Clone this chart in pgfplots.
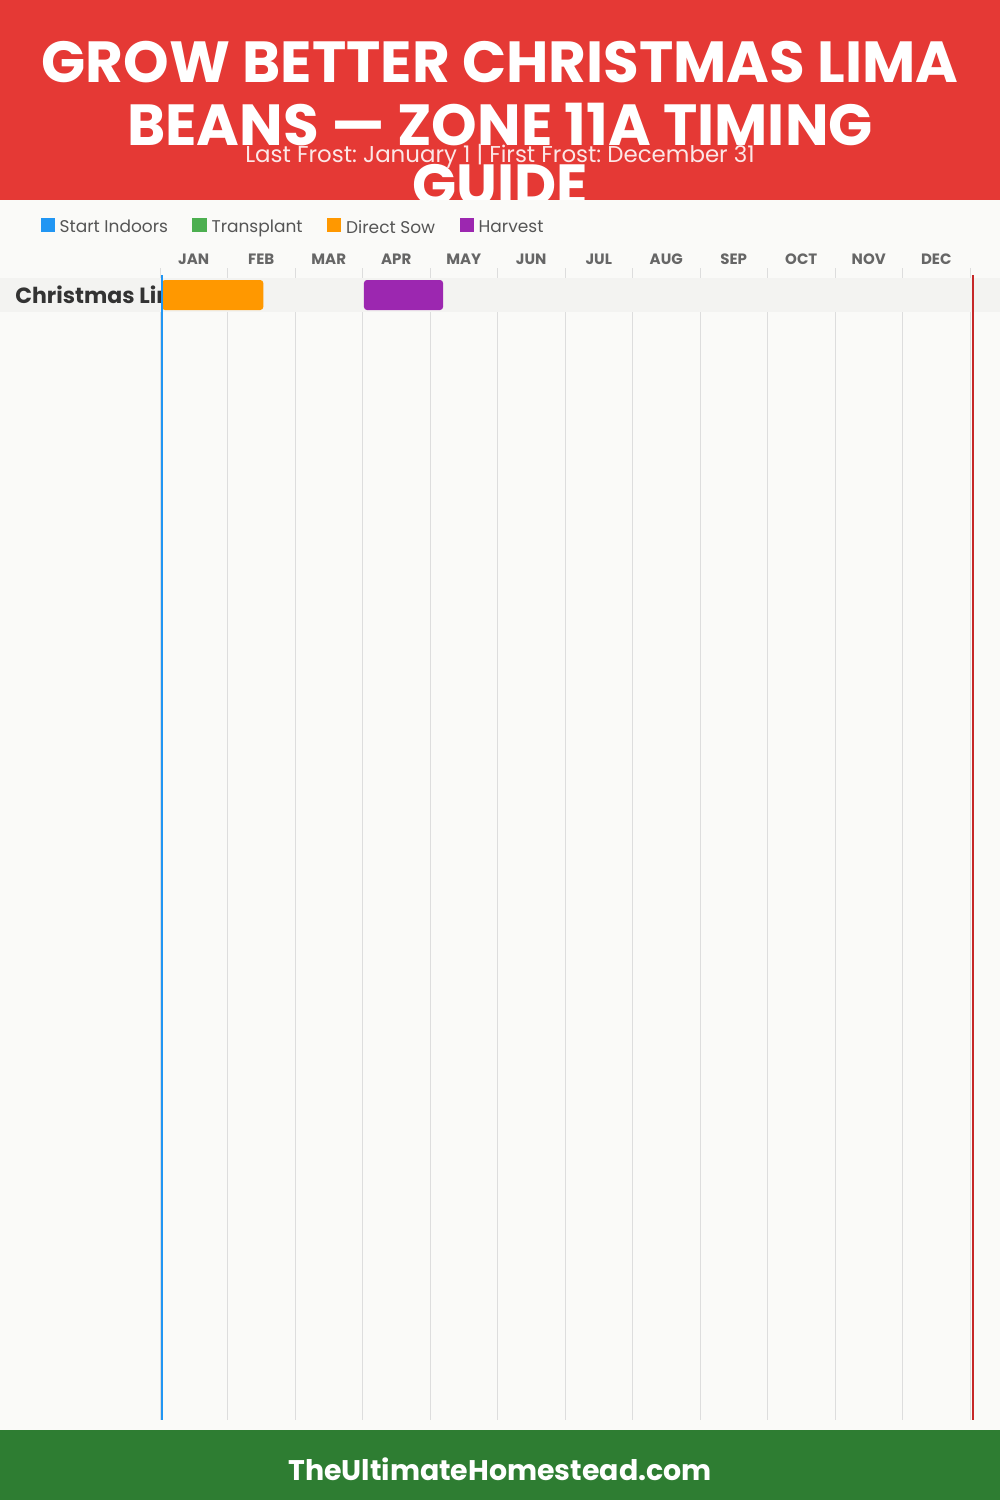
\documentclass[border=0pt]{standalone}
\usepackage{pgfplots}
\pgfplotsset{compat=1.18}
\usepackage{fontspec}
\setmainfont{Poppins}
\definecolor{bgc}{HTML}{FAFAF8}
\definecolor{bandc}{HTML}{F3F3F1}
\definecolor{redband}{HTML}{E53935}
\definecolor{greenband}{HTML}{2E7D32}
\definecolor{cIndoor}{HTML}{2196F3}
\definecolor{cTrans}{HTML}{4CAF50}
\definecolor{cSow}{HTML}{FF9800}
\definecolor{cHarv}{HTML}{9C27B0}
\definecolor{frostred}{HTML}{C62828}
\definecolor{gridc}{HTML}{DDDDDD}
\definecolor{c333}{HTML}{333333}
\definecolor{c555}{HTML}{555555}
\definecolor{c666}{HTML}{666666}
\begin{document}
\frenchspacing
\begin{tikzpicture}
\useasboundingbox (0pt,0pt) rectangle (500pt,750pt);
\fill[bgc] (0pt,0pt) rectangle (500pt,750pt);
\begin{scope}[shift={(0pt,750pt)}, x=0.5pt, y=-0.5pt]
  \fill[redband] (0,0) rectangle (1000,200);
  \begin{scope}
    \clip (0,0) rectangle (1000,200);
    \node[anchor=base, white, font=\fontsize{29}{33}\selectfont\bfseries, inner sep=0pt] at (500,83) {GROW BETTER CHRISTMAS LIMA};
    \node[anchor=base, white, font=\fontsize{29}{33}\selectfont\bfseries, inner sep=0pt] at (500,146) {BEANS — ZONE 11A TIMING};
    \node[anchor=base, white, font=\fontsize{29}{33}\selectfont\bfseries, inner sep=0pt] at (500,206) {GUIDE};
    \node[anchor=base, text=white!88!redband, font=\fontsize{11.45}{13}\selectfont, inner sep=0pt] at (500,163) {Last Frost: January 1 | First Frost: December 31};
  \end{scope}
  \fill[greenband] (0,1430) rectangle (1000,1500);
  \node[anchor=base, white, font=\fontsize{14.2}{16}\selectfont\bfseries, inner sep=0pt] at (500,1481) {TheUltimateHomestead.com};
\end{scope}
\begin{axis}[
  at={(80pt,40pt)}, anchor=south west,
  width=405pt, height=576pt, scale only axis,
  xmin=0, xmax=12, ymin=268, ymax=1420, y dir=reverse,
  clip=false,
  axis line style={draw=none},
  xtick={0.5,1.5,...,11.5},
  xticklabels={JAN,FEB,MAR,APR,MAY,JUN,JUL,AUG,SEP,OCT,NOV,DEC},
  xticklabel pos=upper,
  xticklabel style={anchor=base, yshift=2pt, inner sep=0pt, text=c666, font=\fontsize{7.5}{9}\selectfont\bfseries},
  major tick length=0pt, minor tick length=0pt,
  minor xtick={0,1,...,12},
  xminorgrids=true, xmajorgrids=false,
  minor grid style={gridc, line width=0.5pt},
  ytick=\empty,
  legend image code/.code={\fill[#1] (0pt,-2pt) rectangle (7.2pt,5.2pt); \path (8.4pt,0pt);},
  legend style={at={(-0.148,1.0347)}, anchor=west, draw=none, fill=none, inner sep=0pt,
    legend columns=4, font=\fontsize{8.5}{10}\selectfont, text=c555,
    /tikz/every even column/.append style={column sep=11pt},
    nodes={inner sep=1.2pt}},
]
\addlegendimage{fill=cIndoor, draw=none}
\addlegendimage{fill=cTrans, draw=none}
\addlegendimage{fill=cSow, draw=none}
\addlegendimage{fill=cHarv, draw=none}
% row band
\addplot[forget plot, fill=bandc, draw=none] coordinates {(-2.3704,278) (12.4444,278) (12.4444,312) (-2.3704,312)} -- cycle;
% Direct sow
\addplot[forget plot, fill=cSow, draw=none, rounded corners=1.5pt] coordinates {(0.03,280) (1.53,280) (1.53,310) (0.03,310)} -- cycle;
% Harvest
\addplot[forget plot, fill=cHarv, draw=none, rounded corners=1.5pt] coordinates {(3.022,280) (4.193,280) (4.193,310) (3.022,310)} -- cycle;
% frost lines
\addplot[forget plot, cIndoor, line width=1pt] coordinates {(0.03,275) (0.03,1420)};
\addplot[forget plot, frostred, line width=1pt] coordinates {(12.04,275) (12.04,1420)};
\legend{Start Indoors, Transplant, Direct Sow, Harvest}
\end{axis}
\begin{scope}[shift={(0pt,750pt)}, x=0.5pt, y=-0.5pt]
  \begin{scope}
    \clip (0,278) rectangle (160,312);
    \node[anchor=base west, text=c333, font=\fontsize{11}{13}\selectfont\bfseries, inner sep=0pt] at (15,304) {Christmas Lima Beans};
  \end{scope}
\end{scope}
\end{tikzpicture}
\end{document}
